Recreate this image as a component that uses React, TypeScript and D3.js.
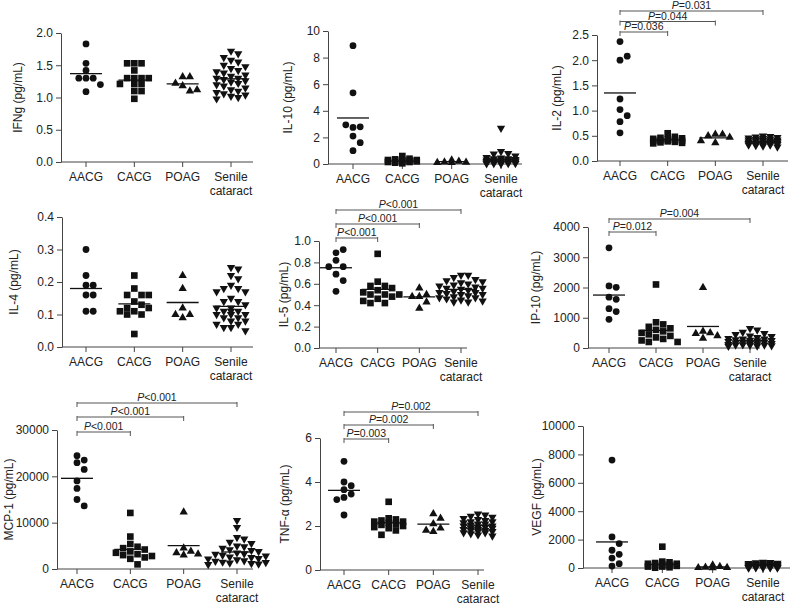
import React, { useEffect, useRef } from 'react';
import * as d3 from 'd3';

const groups = ['AACG', 'CACG', 'POAG', 'Senile cataract'];
const groupLines = [['AACG'], ['CACG'], ['POAG'], ['Senile', 'cataract']];
const symbols = [d3.symbolCircle, d3.symbolSquare, d3.symbolTriangle, d3.symbolTriangle];
const symbolSizes = [36, 44, 30, 30];

// values per group, order: AACG, CACG, POAG, Senile cataract
const ifngValues = [
  [1.83, 1.53, 1.42, 1.30, 1.30, 1.30, 1.20, 1.09],
  [1.53, 1.53, 1.53, 1.42, 1.30, 1.30, 1.30, 1.30, 1.21, 1.21, 1.21, 1.10, 1.10, 0.98],
  [1.32, 1.32, 1.22, 1.18, 1.10, 1.12],
  [1.72, 1.68, 1.62, 1.58, 1.55, 1.50, 1.48, 1.45, 1.42, 1.40, 1.38, 1.35, 1.33, 1.30, 1.30,
    1.28, 1.26, 1.24, 1.22, 1.20, 1.18, 1.15, 1.12, 1.10, 1.08, 1.06, 1.04, 1.02, 1.00, 0.98],
];
const ifngMeans = [1.37, 1.27, 1.21, 1.29];

const il10Values = [
  [8.9, 5.35, 2.75, 2.8, 2.95, 2.1, 1.6, 1.0],
  [0.6, 0.4, 0.35, 0.3, 0.3, 0.3, 0.25, 0.25, 0.2, 0.2, 0.15, 0.15, 0.1, 0.05],
  [0.3, 0.2, 0.15, 0.12, 0.1, 0.1],
  [2.7, 0.95, 0.8, 0.75, 0.6, 0.5, 0.45, 0.4, 0.4, 0.35, 0.3, 0.3, 0.3, 0.25, 0.25,
    0.2, 0.2, 0.2, 0.15, 0.15, 0.1, 0.1, 0.1, 0.1, 0.05, 0.05, 0.05, 0.05, 0.02, 0.02],
];
const il10Means = [3.46, 0.22, 0.18, 0.35];

const il2Values = [
  [2.37, 2.0, 2.08, 1.23, 1.02, 0.9, 0.78, 0.56],
  [0.55, 0.48, 0.46, 0.45, 0.44, 0.43, 0.42, 0.41, 0.40, 0.40, 0.39, 0.38, 0.37, 0.36, 0.35],
  [0.53, 0.53, 0.50, 0.47, 0.40, 0.36],
  [0.50, 0.49, 0.48, 0.47, 0.46, 0.45, 0.44, 0.43, 0.42, 0.42, 0.41, 0.40, 0.40, 0.39, 0.38,
    0.38, 0.37, 0.36, 0.36, 0.35, 0.35, 0.34, 0.34, 0.33, 0.33, 0.32, 0.32, 0.31, 0.30, 0.28],
];
const il2Means = [1.35, 0.42, 0.46, 0.38];

const il4Values = [
  [0.30, 0.22, 0.19, 0.19, 0.16, 0.16, 0.11, 0.11],
  [0.22, 0.18, 0.16, 0.16, 0.16, 0.14, 0.13, 0.12, 0.12, 0.11, 0.11, 0.10, 0.10, 0.04],
  [0.22, 0.18, 0.12, 0.10, 0.09, 0.10],
  [0.245, 0.24, 0.22, 0.21, 0.19, 0.18, 0.18, 0.17, 0.17, 0.15, 0.14, 0.14, 0.13, 0.12, 0.12,
    0.11, 0.11, 0.10, 0.10, 0.10, 0.09, 0.09, 0.08, 0.08, 0.07, 0.07, 0.06, 0.06, 0.05, 0.11],
];
const il4Means = [0.18, 0.133, 0.137, 0.125];

const il5Values = [
  [0.89, 0.92, 0.82, 0.76, 0.76, 0.69, 0.63, 0.53],
  [0.88, 0.62, 0.58, 0.58, 0.56, 0.54, 0.52, 0.50, 0.50, 0.50, 0.48, 0.46, 0.44, 0.42, 0.42],
  [0.56, 0.50, 0.48, 0.48, 0.43, 0.37],
  [0.68, 0.68, 0.66, 0.64, 0.63, 0.62, 0.61, 0.60, 0.59, 0.58, 0.57, 0.56, 0.56, 0.55, 0.54,
    0.53, 0.52, 0.52, 0.51, 0.50, 0.50, 0.49, 0.48, 0.47, 0.47, 0.46, 0.45, 0.44, 0.43, 0.43],
];
const il5Means = [0.75, 0.548, 0.477, 0.548];

const ip10Values = [
  [3310, 2050, 2005, 1680, 1610, 1300, 1205, 950],
  [2100, 850, 780, 700, 650, 600, 550, 500, 450, 400, 350, 300, 250, 200, 200],
  [2000, 550, 500, 480, 400, 320],
  [650, 600, 520, 480, 450, 400, 380, 350, 320, 300, 300, 280, 260, 250, 240,
    220, 200, 200, 180, 160, 150, 140, 120, 110, 100, 100, 90, 80, 70, 60],
];
const ip10Means = [1750, 581, 712, 241];

const mcp1Values = [
  [24460, 23520, 22950, 21500, 19000, 17400, 15000, 13600],
  [12100, 7000, 5400, 4800, 4500, 4200, 3800, 3500, 3200, 3000, 2800, 2500, 2200, 1000],
  [12300, 4500, 3800, 3500, 3200, 3000],
  [10500, 9000, 6800, 6500, 5800, 5500, 5000, 4800, 4500, 4200, 4000, 3800, 3500, 3300, 3200,
    3000, 2800, 2600, 2500, 2300, 2200, 2000, 1800, 1700, 1500, 1400, 1300, 1200, 1100, 1000],
];
const mcp1Means = [19570, 4245, 5036, 3669];

const tnfValues = [
  [4.94, 4.0, 3.83, 3.65, 3.45, 3.3, 3.2, 2.5],
  [3.1, 2.35, 2.3, 2.25, 2.2, 2.2, 2.15, 2.1, 2.05, 2.0, 1.95, 1.9, 1.8, 1.6],
  [2.55, 2.35, 2.1, 1.9, 1.75, 1.8],
  [2.55, 2.5, 2.45, 2.4, 2.35, 2.3, 2.25, 2.2, 2.2, 2.15, 2.1, 2.1, 2.05, 2.0, 2.0,
    1.95, 1.95, 1.9, 1.9, 1.85, 1.85, 1.8, 1.8, 1.75, 1.75, 1.7, 1.7, 1.65, 1.6, 1.55],
];
const tnfMeans = [3.62, 2.145, 2.085, 2.04];

const vegfValues = [
  [7600, 2190, 1720, 1250, 960, 700, 300, 140],
  [1500, 450, 400, 350, 300, 300, 250, 200, 200, 150, 100, 100, 50, 20],
  [200, 100, 50, 30, 20, 10],
  [420, 400, 380, 350, 320, 300, 280, 260, 250, 230, 220, 200, 200, 180, 160,
    150, 140, 120, 100, 100, 80, 70, 60, 50, 40, 30, 20, 20, 10, 10],
];
const vegfMeans = [1835, 260, 70, 210];

// significance brackets: from AACG to group index
const il2Brackets = [{ to: 1, text: '=0.036' }, { to: 2, text: '=0.044' }, { to: 3, text: '=0.031' }];
const il5Brackets = [{ to: 1, text: '<0.001' }, { to: 2, text: '<0.001' }, { to: 3, text: '<0.001' }];
const ip10Brackets = [{ to: 1, text: '=0.012' }, { to: 3, text: '=0.004' }];
const mcp1Brackets = [{ to: 1, text: '<0.001' }, { to: 2, text: '<0.001' }, { to: 3, text: '<0.001' }];
const tnfBrackets = [{ to: 1, text: '=0.003' }, { to: 2, text: '=0.002' }, { to: 3, text: '=0.002' }];

const panels = [
  { label: 'IFNg (pg/mL)', values: ifngValues, means: ifngMeans, ticks: [0, 0.5, 1, 1.5, 2], fmt: '.1f', brackets: [] },
  { label: 'IL-10 (pg/mL)', values: il10Values, means: il10Means, ticks: [0, 2, 4, 6, 8, 10], fmt: 'd', brackets: [] },
  { label: 'IL-2 (pg/mL)', values: il2Values, means: il2Means, ticks: [0, 0.5, 1, 1.5, 2, 2.5], fmt: '.1f', brackets: il2Brackets },
  { label: 'IL-4 (pg/mL)', values: il4Values, means: il4Means, ticks: [0, 0.1, 0.2, 0.3, 0.4], fmt: '.1f', brackets: [] },
  { label: 'IL-5 (pg/mL)', values: il5Values, means: il5Means, ticks: [0, 0.2, 0.4, 0.6, 0.8, 1], fmt: '.1f', brackets: il5Brackets },
  { label: 'IP-10 (pg/mL)', values: ip10Values, means: ip10Means, ticks: [0, 1000, 2000, 3000, 4000], fmt: 'd', brackets: ip10Brackets },
  { label: 'MCP-1 (pg/mL)', values: mcp1Values, means: mcp1Means, ticks: [0, 10000, 20000, 30000], fmt: 'd', brackets: mcp1Brackets },
  { label: 'TNF-α (pg/mL)', values: tnfValues, means: tnfMeans, ticks: [0, 2, 4, 6], fmt: 'd', brackets: tnfBrackets },
  { label: 'VEGF (pg/mL)', values: vegfValues, means: vegfMeans, ticks: [0, 2000, 4000, 6000, 8000, 10000], fmt: 'd', brackets: [] },
];

// pixel layout of each panel
const layouts = [
  { x0: 61, x1: 253, c0: 86, c1: 231, top: 33, bottom: 162, labelOff: 43, maxK: 2, bracketY: [] },
  { x0: 328, x1: 522, c0: 353, c1: 501, top: 31, bottom: 164, labelOff: 40, maxK: 2, bracketY: [] },
  { x0: 597, x1: 788, c0: 620, c1: 763, top: 35, bottom: 161, labelOff: 40, maxK: 2, bracketY: [32, 21.5, 11] },
  { x0: 62, x1: 253, c0: 86, c1: 231, top: 217, bottom: 347, labelOff: 48, maxK: 2, bracketY: [] },
  { x0: 319, x1: 467, c0: 336, c1: 461, top: 241, bottom: 348, labelOff: 35, maxK: 3, bracketY: [238, 224, 210] },
  { x0: 588, x1: 760, c0: 609, c1: 750, top: 227, bottom: 348, labelOff: 52, maxK: 3, bracketY: [232, 219] },
  { x0: 57, x1: 253, c0: 77, c1: 237, top: 430, bottom: 569, labelOff: 48, maxK: 4, bracketY: [432, 417, 403] },
  { x0: 320, x1: 484, c0: 344, c1: 478, top: 438, bottom: 570, labelOff: 35, maxK: 2, bracketY: [439, 425, 412] },
  { x0: 583, x1: 790, c0: 612, c1: 763, top: 426, bottom: 568, labelOff: 46, maxK: 2, bracketY: [] },
];

// simple dot-plot layout: spread points sideways when they collide
function swarm(vals: number[], y: (v: number) => number, cx: number, maxK: number) {
  const step = 7.2;
  const diam = 6.8;
  const placed: { x: number; y: number }[] = [];
  vals.forEach((v) => {
    const py = y(v);
    let best = cx;
    let bestD = -1;
    for (let j = 0; j <= 2 * maxK; j++) {
      const k = j === 0 ? 0 : j % 2 ? (j + 1) / 2 : -j / 2;
      const px = cx + k * step;
      const dmin = placed.length ? d3.min(placed, (q) => Math.hypot(q.x - px, q.y - py))! : Infinity;
      if (dmin >= diam) { best = px; bestD = Infinity; break; }
      if (dmin > bestD) { bestD = dmin; best = px; }
    }
    placed.push({ x: best, y: py });
  });
  return placed;
}

export default function App() {
  const ref = useRef<SVGSVGElement>(null);

  useEffect(() => {
    const svg = d3.select(ref.current);
    svg.selectAll('*').remove();
    const ink = '#111';
    const axisColor = '#444';

    panels.forEach((p, i) => {
      const L = layouts[i];
      const g = svg.append('g');
      const y = d3.scaleLinear().domain([0, p.ticks[p.ticks.length - 1]]).range([L.bottom, L.top]);
      const x = d3.scalePoint<string>().domain(groups).range([L.c0, L.c1]);

      // y axis
      const yAxis = g.append('g')
        .attr('transform', `translate(${L.x0},0)`)
        .call(d3.axisLeft(y).tickValues(p.ticks).tickFormat(d3.format(p.fmt) as any).tickSize(5).tickSizeOuter(0).tickPadding(3));
      yAxis.selectAll('path, line').attr('stroke', axisColor);
      yAxis.selectAll('text').attr('font-size', 12).attr('fill', '#222').attr('font-family', null);

      // x axis
      g.append('line')
        .attr('x1', L.x0).attr('x2', L.x1)
        .attr('y1', L.bottom).attr('y2', L.bottom)
        .attr('stroke', axisColor);
      g.selectAll('.xtick')
        .data(groups)
        .enter()
        .append('line')
        .attr('x1', (d) => x(d)!).attr('x2', (d) => x(d)!)
        .attr('y1', L.bottom).attr('y2', L.bottom + 5)
        .attr('stroke', axisColor);
      const xl = g.selectAll('.xlabel')
        .data(groups)
        .enter()
        .append('text')
        .attr('x', (d) => x(d)!)
        .attr('y', L.bottom + 19)
        .attr('text-anchor', 'middle')
        .attr('font-size', 12)
        .attr('fill', '#222');
      xl.each(function (d, gi) {
        groupLines[gi].forEach((t, li) => {
          d3.select(this).append('tspan')
            .attr('x', x(d)!)
            .attr('dy', li === 0 ? 0 : 14)
            .text(t);
        });
      });

      // y label
      g.append('text')
        .attr('transform', `translate(${L.x0 - L.labelOff},${(L.top + L.bottom) / 2}) rotate(-90)`)
        .attr('text-anchor', 'middle')
        .attr('dominant-baseline', 'central')
        .attr('font-size', 12)
        .attr('fill', '#222')
        .text(p.label);

      // points
      p.values.forEach((vals, gi) => {
        const pts = swarm(vals, y, x(groups[gi])!, L.maxK);
        const sym = d3.symbol().type(symbols[gi]).size(symbolSizes[gi]);
        g.append('g')
          .selectAll('path')
          .data(pts)
          .enter()
          .append('path')
          .attr('d', sym()!)
          .attr('transform', (d) => `translate(${d.x},${d.y})${gi === 3 ? ' rotate(180)' : ''}`)
          .attr('fill', ink);
      });

      // mean lines
      g.selectAll('.mean')
        .data(p.means)
        .enter()
        .append('line')
        .attr('x1', (d, gi) => x(groups[gi])! - 16)
        .attr('x2', (d, gi) => x(groups[gi])! + 16)
        .attr('y1', (d) => y(d))
        .attr('y2', (d) => y(d))
        .attr('stroke', ink)
        .attr('stroke-width', 1.3);

      // significance brackets
      p.brackets.forEach((b, bi) => {
        const by = L.bracketY[bi];
        const xa = x(groups[0])!;
        const xb = x(groups[b.to])!;
        const bg = g.append('g').attr('stroke', '#555').attr('fill', 'none');
        bg.append('line').attr('x1', xa).attr('x2', xb).attr('y1', by).attr('y2', by);
        bg.append('line').attr('x1', xa).attr('x2', xa).attr('y1', by - 1).attr('y2', by + 4);
        bg.append('line').attr('x1', xb).attr('x2', xb).attr('y1', by - 1).attr('y2', by + 4);
        const t = g.append('text')
          .attr('x', (xa + xb) / 2)
          .attr('y', by - 2)
          .attr('text-anchor', 'middle')
          .attr('font-size', 10.5)
          .attr('fill', '#222');
        t.append('tspan').attr('font-style', 'italic').text('P');
        t.append('tspan').text(b.text);
      });
    });
  }, []);

  return (
    <svg
      ref={ref}
      width={798}
      height={605}
      style={{ position: 'absolute', left: 0, top: 0, background: '#fff' }}
      fontFamily="'Liberation Sans', Arial, Helvetica, sans-serif"
    />
  );
}
